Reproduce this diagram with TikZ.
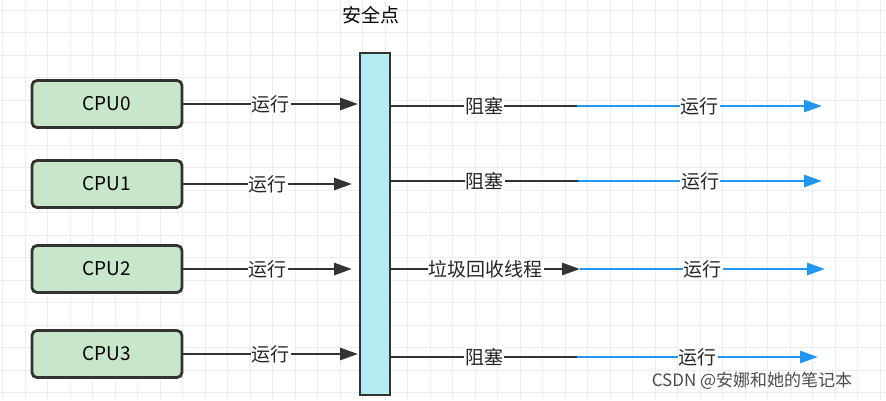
\documentclass[tikz,border=0pt]{standalone}
\usepackage{fontspec}
\setmainfont{Noto Sans CJK SC}
\usetikzlibrary{arrows.meta}
\begin{document}
\begin{tikzpicture}[x=1pt,y=-1pt,font=\fontsize{19}{22}\selectfont,
  cpu/.style={draw=black!80,line width=2.8pt,rounded corners=5pt,minimum width=150pt,minimum height=47pt,inner sep=0pt},
  ln/.style={draw=black!80,line width=2.8pt,-{Triangle[length=18pt,width=12pt]}},
  bl/.style={line width=2.8pt,-{Triangle[length=18pt,width=12pt]}},
  lab/.style={fill=white,inner sep=1pt,text=black!85}]
\definecolor{cpug}{HTML}{C8E6C9}
\definecolor{barc}{HTML}{B2EBF2}
\definecolor{blu}{HTML}{2196F3}
\useasboundingbox (0,0) rectangle (886,400);
\fill[white] (0,0) rectangle (886,400);
\foreach \i in {0,...,39} \draw[black!7,line width=0.9pt] (2.5+22.5*\i,0) -- (2.5+22.5*\i,400);
\foreach \j in {0,...,17} \draw[black!7,line width=0.9pt] (0,10+22.5*\j) -- (886,10+22.5*\j);
\node[draw=black!80,line width=2.8pt,fill=barc,minimum width=30pt,minimum height=342pt,inner sep=0pt] (bar) at (375,224) {};
\node (sp) at (371,15) {安全点};
\foreach \n/\y/\e in {0/104/358,1/184/352,2/269/352,3/354/358}{
  \node[cpu,fill=cpug] (c\n) at (107,\y) {CPU\n};
  \coordinate (e\n) at (\e,\y);
  \draw[ln] (c\n.east) -- node[lab]{运行} (e\n);
}
\foreach \n/\y/\m/\t/\lbl in {0/106/577/822/阻塞,1/181/578/822/阻塞,3/357/577/818/阻塞}{
  \coordinate (s\n) at (bar.east |- 0,\y);
  \coordinate (m\n) at (\m,\y);
  \coordinate (t\n) at (\t,\y);
  \draw[draw=black!80,line width=2.8pt] (s\n) -- node[lab]{\lbl} (m\n);
  \draw[bl,draw=blu,fill=blu] (m\n) -- node[lab]{运行} (t\n);
}
\coordinate (s2) at (bar.east |- 0,269);
\coordinate (m2) at (580,269);
\coordinate (t2) at (825,269);
\draw[ln] (s2) -- node[lab]{垃圾回收线程} (m2);
\draw[bl,draw=blu,fill=blu] (m2) -- node[lab]{运行} (t2);
\node[text=black!70,font=\fontsize{17}{19}\selectfont] (wm) at (752,381) {CSDN @安娜和她的笔记本};
\end{tikzpicture}
\end{document}
